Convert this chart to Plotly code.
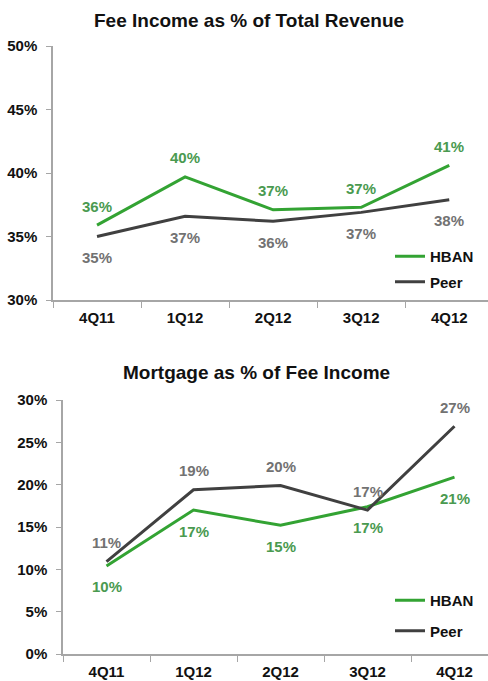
import plotly.graph_objects as go

quarters = ["4Q11", "1Q12", "2Q12", "3Q12", "4Q12"]
fee_hban = [35.9, 39.7, 37.1, 37.3, 40.6]
fee_peer = [35.0, 36.6, 36.2, 36.9, 37.9]
mort_hban = [10.4, 17.0, 15.2, 17.4, 20.9]
mort_peer = [10.9, 19.4, 19.9, 17.0, 26.9]

GREEN = "#33A333"
GREEN_TXT = "#4A9A50"
DARK = "#404040"
GRAY_TXT = "#727272"
AXIS = "#A6A6A6"
FONT = "Liberation Sans, Arial, sans-serif"
H = 681

fig = go.Figure()

# top panel
fig.add_trace(go.Scatter(x=quarters, y=fee_hban, name="HBAN", mode="lines",
                         line=dict(color=GREEN, width=3), xaxis="x", yaxis="y",
                         legend="legend", legendgroup="a"))
fig.add_trace(go.Scatter(x=quarters, y=fee_peer, name="Peer", mode="lines",
                         line=dict(color=DARK, width=3), xaxis="x", yaxis="y",
                         legend="legend", legendgroup="b"))
# bottom panel
fig.add_trace(go.Scatter(x=quarters, y=mort_hban, name="HBAN", mode="lines",
                         line=dict(color=GREEN, width=3), xaxis="x2", yaxis="y2",
                         legend="legend2", legendgroup="c"))
fig.add_trace(go.Scatter(x=quarters, y=mort_peer, name="Peer", mode="lines",
                         line=dict(color=DARK, width=3), xaxis="x2", yaxis="y2",
                         legend="legend2", legendgroup="d"))


def labels(vals, xa, ya, shift, color):
    for q, v in zip(quarters, vals):
        fig.add_annotation(x=q, y=v, xref=xa, yref=ya, text=f"{v:.0f}%",
                           showarrow=False, yshift=shift,
                           font=dict(family=FONT, size=15, color=color, weight="bold"))


labels(fee_hban, "x", "y", 19, GREEN_TXT)
labels(fee_peer, "x", "y", -21, GRAY_TXT)
labels(mort_peer, "x2", "y2", 19, GRAY_TXT)
labels(mort_hban, "x2", "y2", -21, GREEN_TXT)

title_font = dict(family=FONT, size=19, color="#111111", weight="bold")
fig.add_annotation(text="Fee Income as % of Total Revenue", x=249 / 488, y=1 - 20 / H,
                   xref="paper", yref="paper", yanchor="middle", showarrow=False,
                   font=title_font)
fig.add_annotation(text="Mortgage as % of Fee Income", x=256 / 488, y=1 - 372 / H,
                   xref="paper", yref="paper", yanchor="middle", showarrow=False,
                   font=title_font)

tick_font = dict(family=FONT, size=15, color="#111111", weight="bold")
xcommon = dict(type="category", showline=True, linecolor=AXIS, linewidth=1.5,
               ticks="outside", tickson="boundaries", ticklen=6, tickcolor=AXIS,
               tickfont=tick_font, showgrid=False, zeroline=False,
               ticklabelstandoff=3, automargin=False)
ycommon = dict(showline=True, linecolor=AXIS, linewidth=1.5, ticks="outside",
               ticklen=5, tickcolor=AXIS, tickfont=tick_font, showgrid=False,
               zeroline=False, ticksuffix="%", dtick=5, ticklabelstandoff=6,
               automargin=False)

fig.update_layout(
    width=488, height=H,
    margin=dict(l=0, r=0, t=0, b=0),
    paper_bgcolor="white", plot_bgcolor="white",
    font=dict(family=FONT),
    xaxis=dict(xcommon, domain=[53 / 488, 1], range=[-0.5, 4.44], anchor="y"),
    yaxis=dict(ycommon, domain=[1 - 300 / H, 1 - 46 / H], range=[30, 50], anchor="x"),
    xaxis2=dict(xcommon, domain=[63 / 488, 1], range=[-0.5, 4.385], anchor="y2"),
    yaxis2=dict(ycommon, domain=[1 - 654 / H, 1 - 400 / H], range=[0, 30], anchor="x2"),
    legend=dict(x=390 / 488, y=1 - 240 / H, xanchor="left", yanchor="top",
                font=dict(family=FONT, size=15, color="#111111", weight="bold"),
                tracegroupgap=3, bgcolor="rgba(0,0,0,0)"),
    legend2=dict(x=390 / 488, y=1 - 584 / H, xanchor="left", yanchor="top",
                 font=dict(family=FONT, size=15, color="#111111", weight="bold"),
                 tracegroupgap=8, bgcolor="rgba(0,0,0,0)"),
)

# drop the browser's default body margin so the figure fills the window
fig.write_html("out.html", config={"displayModeBar": False},
               post_script="document.body.style.margin = '0';")
